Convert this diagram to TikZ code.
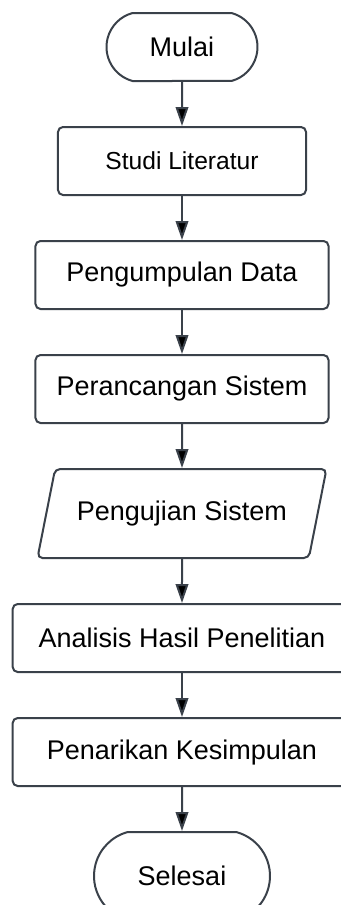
\documentclass[tikz,border=0pt]{standalone}
\usepackage{fontspec}
\setmainfont{Liberation Sans}
\usetikzlibrary{positioning}
\usetikzlibrary{arrows.meta}
\usetikzlibrary{shapes.geometric,shapes.misc}
\definecolor{garis}{RGB}{58,65,74}

\begin{document}
\begin{tikzpicture}[node distance=22pt,>={Triangle[length=9.5pt,width=6.3pt]},
		font=\fontsize{13.5}{16}\selectfont,
		base/.style={draw=garis,line width=1pt,inner sep=2pt,minimum height=34pt},
		terminal/.style={base,rounded rectangle,rounded rectangle arc length=150},
		proses/.style={base,rectangle,rounded corners=2.5pt},
		io/.style={base,trapezium,trapezium left angle=62,trapezium right angle=118,
			trapezium stretches body,rounded corners=2.5pt,minimum height=44.5pt}]
		\useasboundingbox (-91pt,23.5pt) rectangle (79.5pt,-429pt);
		\node[terminal,minimum width=79.5pt] (start) {Mulai};
		\node[proses,minimum width=124pt,font=\fontsize{12.3}{15}\selectfont] (studi) [below=of start] {Studi Literatur};
		\node[proses,minimum width=146.5pt] (data) [below=of studi] {Pengumpulan Data};
		\node[proses,minimum width=146.5pt] (rancang) [below=of data] {Perancangan Sistem};
		\node[io,minimum width=144.5pt] (uji) [below=of rancang] {Pengujian Sistem};
		\node[proses,minimum width=169.3pt] (analisis) [below=of uji] {Analisis Hasil Penelitian};
		\node[proses,minimum width=169.3pt] (simpul) [below=of analisis] {Penarikan Kesimpulan};
		\node[terminal,minimum width=92pt,minimum height=44pt] (end) [below=of simpul] {Selesai};
		
		\path[->,draw=garis,line width=1pt]
		(start) edge (studi)
		(studi) edge (data)
		(data) edge (rancang)
		(rancang) edge (uji)
		(uji) edge (analisis)
		(analisis) edge (simpul)
		(simpul) edge (end);
\end{tikzpicture}
\end{document}
